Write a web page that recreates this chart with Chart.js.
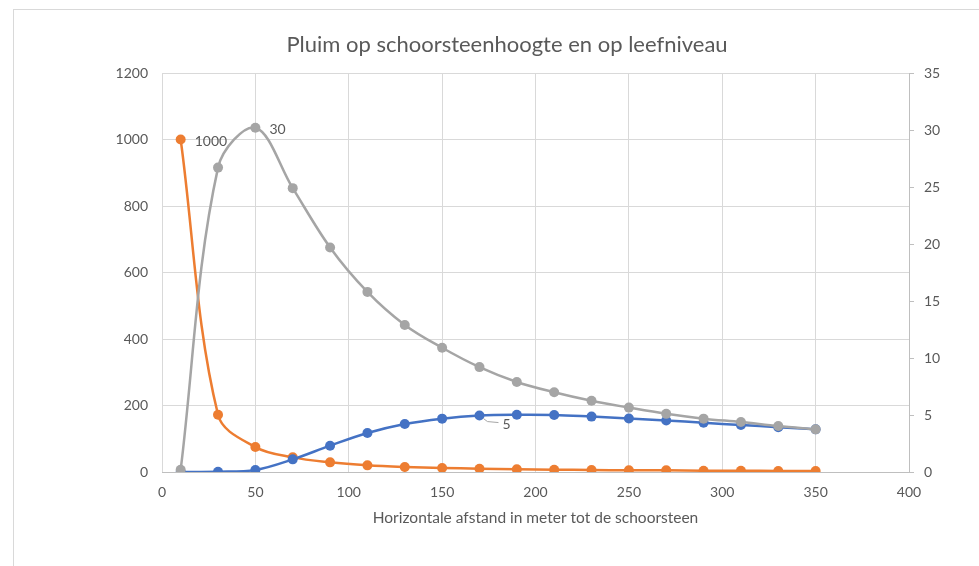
<!DOCTYPE html>
<html><head><meta charset="utf-8">
<script src="https://cdn.jsdelivr.net/npm/chart.js@4.4.1/dist/chart.umd.min.js"></script>
<style>html,body{margin:0;padding:0;background:#fff}</style>
</head><body>
<canvas id="c" width="979" height="566" style="width:979px;height:566px;display:block"></canvas>
<script>
// ---- data ----
const xValues = [10,30,50,70,90,110,130,150,170,190,210,230,250,270,290,310,330,350];
const orangeValues = [1000,172,75,44,29,20,15,12,10,8,7,6,5,5,4,4,3,3];          // left axis
const blueValues = [0,0.02,0.18,1.11,2.31,3.42,4.21,4.68,4.95,5.02,5.0,4.86,4.7,4.52,4.32,4.12,3.93,3.74]; // right axis
const grayValues = [0.2,26.7,30.2,24.9,19.7,15.8,12.9,10.9,9.2,7.9,7.0,6.25,5.65,5.1,4.68,4.38,4.03,3.74]; // right axis
const titleText = 'Pluim op schoorsteenhoogte en op leefniveau';
const xAxisTitle = 'Horizontale afstand in meter tot de schoorsteen';
const xTickRange = [0, 400, 50];
const leftTickRange = [0, 1200, 200];
const rightTickRange = [0, 35, 5];
// data labels: [dataset index, point index, text]
const dataLabels = [[0, 0, '1000'], [2, 2, '30'], [1, 8, '5']];

const toPts = vals => vals.map((v, i) => ({x: xValues[i], y: v}));
const TXT = '#595959';
const FAM = 'Lato, "Open Sans", sans-serif';
Chart.defaults.font.family = FAM;
Chart.defaults.font.size = 14;
Chart.defaults.color = TXT;
const plain = v => String(v);

const decor = {
  id: 'decor',
  beforeDraw(chart) {
    const ctx = chart.ctx;
    ctx.save();
    ctx.fillStyle = '#fff';
    ctx.fillRect(0, 0, chart.width, chart.height);
    ctx.strokeStyle = '#D9D9D9';
    ctx.lineWidth = 1;
    ctx.strokeRect(13.5, 9.5, 1100, 700);
    ctx.restore();
  },
  afterDraw(chart) {
    const ctx = chart.ctx;
    ctx.save();
    ctx.fillStyle = TXT;
    ctx.font = '22px ' + FAM;
    ctx.textAlign = 'center';
    ctx.textBaseline = 'middle';
    ctx.fillText(titleText, 507, 45);
    ctx.font = '14px ' + FAM;
    ctx.textAlign = 'left';
    dataLabels.forEach(([di, pi, txt]) => {
      const p = chart.getDatasetMeta(di).data[pi];
      if (di === 1) {
        ctx.strokeStyle = '#A6A6A6';
        ctx.lineWidth = 1;
        ctx.beginPath();
        ctx.moveTo(p.x + 4, p.y + 3);
        ctx.lineTo(p.x + 8, p.y + 6);
        ctx.lineTo(p.x + 19, p.y + 7);
        ctx.stroke();
        ctx.fillText(txt, p.x + 23, p.y + 9);
      } else {
        ctx.fillText(txt, p.x + 14, p.y + 1.5);
      }
    });
    ctx.restore();
  }
};

const ds = (label, vals, color, axis, order) => ({
  label, data: toPts(vals), yAxisID: axis, order,
  borderColor: color, backgroundColor: color,
  borderWidth: 2.5, pointRadius: 5, pointHoverRadius: 5,
  pointBorderWidth: 0, tension: 0.35, fill: false
});

new Chart(document.getElementById('c'), {
  type: 'line',
  data: {
    datasets: [
      ds('oranje', orangeValues, '#ED7D31', 'y', 3),
      ds('blauw', blueValues, '#4472C4', 'y2', 2),
      ds('grijs', grayValues, '#A5A5A5', 'y2', 1)
    ]
  },
  options: {
    responsive: false, animation: false, devicePixelRatio: 1,
    layout: {padding: {top: 73, left: 0, right: 0, bottom: 0}},
    plugins: {legend: {display: false}, tooltip: {enabled: false}, title: {display: false}},
    scales: {
      x: {
        type: 'linear', min: xTickRange[0], max: xTickRange[1],
        ticks: {stepSize: xTickRange[2], padding: 12, callback: plain},
        grid: {color: '#D9D9D9', drawTicks: false},
        border: {color: '#BFBFBF'},
        title: {display: true, text: xAxisTitle, color: TXT, font: {size: 15.5}, padding: {top: 0, bottom: 39}},
        afterFit: s => { s.height = 94; }
      },
      y: {
        position: 'left', min: leftTickRange[0], max: leftTickRange[1],
        ticks: {stepSize: leftTickRange[2], padding: 14, callback: plain},
        grid: {color: '#D9D9D9', drawTicks: false},
        border: {display: false},
        afterFit: s => { s.width = 162; }
      },
      y2: {
        position: 'right', min: rightTickRange[0], max: rightTickRange[1],
        ticks: {stepSize: rightTickRange[2], padding: 10, callback: plain},
        grid: {drawOnChartArea: false, drawTicks: true, tickLength: 5, color: '#BFBFBF'},
        border: {display: true, color: '#BFBFBF'},
        afterFit: s => { s.width = 70; }
      }
    }
  },
  plugins: [decor]
});
</script>
</body></html>
